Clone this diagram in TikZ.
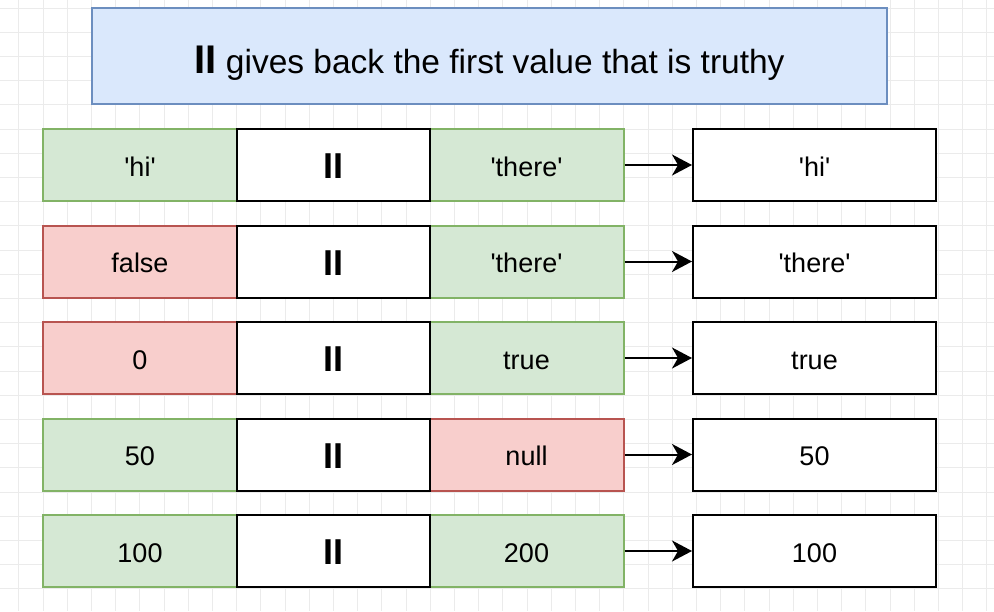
\documentclass[tikz,border=0pt]{standalone}
\usepackage{fontspec}
\setmainfont{Liberation Sans}
\usetikzlibrary{arrows.meta}
\definecolor{bluefill}{HTML}{DAE8FC}
\definecolor{bluedraw}{HTML}{6C8EBF}
\definecolor{greenfill}{HTML}{D5E8D4}
\definecolor{greendraw}{HTML}{82B366}
\definecolor{redfill}{HTML}{F8CECC}
\definecolor{reddraw}{HTML}{B85450}
\definecolor{gridcol}{HTML}{EBEBEB}
\newcommand\myq{\textquotesingle}
\tikzset{
  base/.style={rectangle, inner sep=0pt, line width=2pt, minimum height=72pt,
    text height=22pt, text depth=0pt,
    font=\fontsize{27}{32}\selectfont},
  truebox/.style={base, fill=greenfill, draw=greendraw, minimum width=194pt},
  falsebox/.style={base, fill=redfill, draw=reddraw, minimum width=194pt},
  opbox/.style={base, fill=white, draw=black, minimum width=193pt,
    text height=27.5pt, font=\fontsize{36}{40}\selectfont\bfseries},
  resbox/.style={base, fill=white, draw=black, minimum width=243pt},
  titlebox/.style={rectangle, inner sep=0pt, line width=1.6pt, fill=bluefill, draw=bluedraw,
    minimum width=795pt, minimum height=96pt, text height=34pt, text depth=0pt,
    font=\fontsize{33.5}{40}\selectfont},
  arr/.style={line width=2pt, -{Stealth[length=20pt, width=21pt, inset=6pt]}}
}
\begin{document}
\begin{tikzpicture}[x=1pt, y=-1pt]
\useasboundingbox (0,0) rectangle (994,611);
\fill[white] (0,0) rectangle (994,611);
% grid
\foreach \i in {-1,...,39} {
  \draw[gridcol, line width=0.8pt] (43+24.2*\i, 0) -- (43+24.2*\i, 611);
}
\foreach \j in {0,...,25} {
  \draw[gridcol, line width=0.8pt] (0, 8+24.2*\j) -- (994, 8+24.2*\j);
}
% title
\node[titlebox] (title) at (489.5,56) {{\fontsize{40}{40}\selectfont\bfseries II} gives back the first value that is truthy};
% row 1
\node[truebox] (a1) at (140,165) {\myq hi\myq};
\node[truebox] (c1) at (526.5,165) {\myq there\myq};
\node[opbox] (b1) at (333.5,165) {II};
\node[resbox] (r1) at (814.5,165) {\myq hi\myq};
% row 2
\node[falsebox] (a2) at (140,261.5) {false};
\node[truebox] (c2) at (526.5,261.5) {\myq there\myq};
\node[opbox] (b2) at (333.5,261.5) {II};
\node[resbox] (r2) at (814.5,261.5) {\myq there\myq};
% row 3
\node[falsebox] (a3) at (140,358) {0};
\node[truebox] (c3) at (526.5,358) {true};
\node[opbox] (b3) at (333.5,358) {II};
\node[resbox] (r3) at (814.5,358) {true};
% row 4
\node[truebox] (a4) at (140,454.5) {50};
\node[falsebox] (c4) at (526.5,454.5) {null};
\node[opbox] (b4) at (333.5,454.5) {II};
\node[resbox] (r4) at (814.5,454.5) {50};
% row 5
\node[truebox] (a5) at (140,551) {100};
\node[truebox] (c5) at (526.5,551) {200};
\node[opbox] (b5) at (333.5,551) {II};
\node[resbox] (r5) at (814.5,551) {100};
% arrows
\foreach \k in {1,...,5} {
  \draw[arr] (c\k.east) -- (r\k.west);
}
\end{tikzpicture}
\end{document}
